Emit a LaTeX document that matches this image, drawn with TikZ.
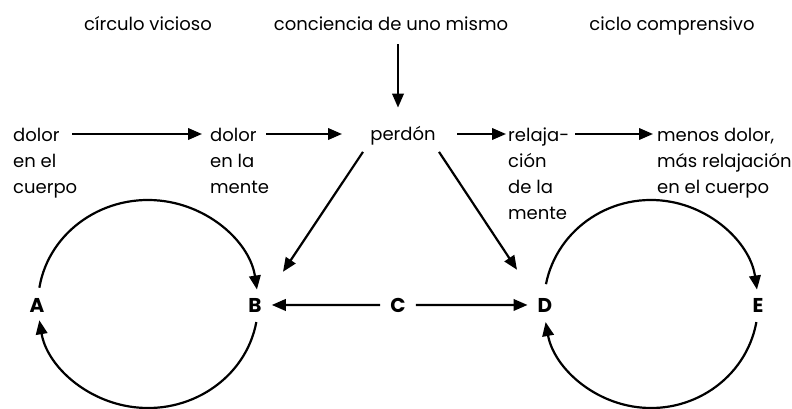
\documentclass[tikz,border=0pt]{standalone}
\usepackage{fontspec}
\setmainfont{Poppins}
\usetikzlibrary{arrows.meta,calc}
\begin{document}
\begin{tikzpicture}[x=1pt,y=-1pt,
  lbl/.style={inner sep=0pt, font=\fontsize{18}{26}\selectfont},
  ml/.style={lbl, align=left, anchor=north west},
  letter/.style={inner sep=0pt, font=\fontsize{20}{24}\selectfont\bfseries},
  arr/.style={line width=2.2pt, -{Triangle[length=14pt,width=11.5pt]}},
]
\fill[white] (0,0) rectangle (792,409);
\useasboundingbox (0,0) rectangle (792,409);
% titles
\node[lbl, anchor=base] (t1) at (148,31) {círculo vicioso};
\node[lbl, anchor=base] (t2) at (391,31) {conciencia de uno mismo};
\node[lbl, anchor=base] (t3) at (672,31) {ciclo comprensivo};
% row texts
\node[lbl, anchor=base] (perdon) at (403,141) {perdón};
\node[ml] (d1) at (13,128) {dolor\\en el\\cuerpo};
\node[ml] (d2) at (210,128) {dolor\\en la\\mente};
\node[ml] (r) at (508,128) {relaja-\\ción\\de la\\mente};
\node[ml] (m) at (657,128) {menos dolor,\\más relajación\\en el cuerpo};
\coordinate (row) at (0,134);
\coordinate (vx) at (398,0);
% letters
\node[letter, anchor=base] (A) at (37,312) {A};
\node[letter, anchor=base] (B) at (255,312) {B};
\node[letter, anchor=base] (C) at (398,312) {C};
\node[letter, anchor=base] (D) at (545,312) {D};
\node[letter, anchor=base] (E) at (758,312) {E};
\coordinate (c1) at (148,304);
\coordinate (c2) at (651,304);
% vertical arrow
\draw[arr] ($(t2.south -| vx)+(0,13)$) -- ($(perdon.north -| vx)+(0,-19)$);
% row arrows
\draw[arr] ($(d1.west |- row)+(59,0)$) -- ($(d2.west |- row)+(-8,0)$);
\draw[arr] ($(d2.west |- row)+(56,0)$) -- ($(perdon |- row)+(-61,0)$);
\draw[arr] ($(perdon |- row)+(54,0)$) -- ($(r.west |- row)+(-2,0)$);
\draw[arr] ($(r.west |- row)+(67,0)$) -- ($(m.west |- row)+(-4,0)$);
% diagonals
\draw[arr] ($(perdon.south)+(-40,6)$) -- ($(B.north)+(28,-26)$);
\draw[arr] ($(perdon.south)+(36,6)$) -- ($(D.north)+(-28,-28)$);
% C arrows
\draw[arr, shorten <=10pt, shorten >=10pt] (C.west) -- (B.east);
\draw[arr, shorten <=10pt, shorten >=10pt] (C.east) -- (D.west);
% circles
\draw[arr] (c1) ++(171:110pt and 104pt) arc[start angle=171, end angle=8, x radius=110pt, y radius=104pt];
\draw[arr] (c1) ++(-10:110pt and 104pt) arc[start angle=-10, end angle=-171, x radius=110pt, y radius=104pt];
\draw[arr] (c2) ++(169:107pt and 104pt) arc[start angle=169, end angle=8, x radius=107pt, y radius=104pt];
\draw[arr] (c2) ++(-10:107pt and 104pt) arc[start angle=-10, end angle=-170, x radius=107pt, y radius=104pt];
\end{tikzpicture}
\end{document}
